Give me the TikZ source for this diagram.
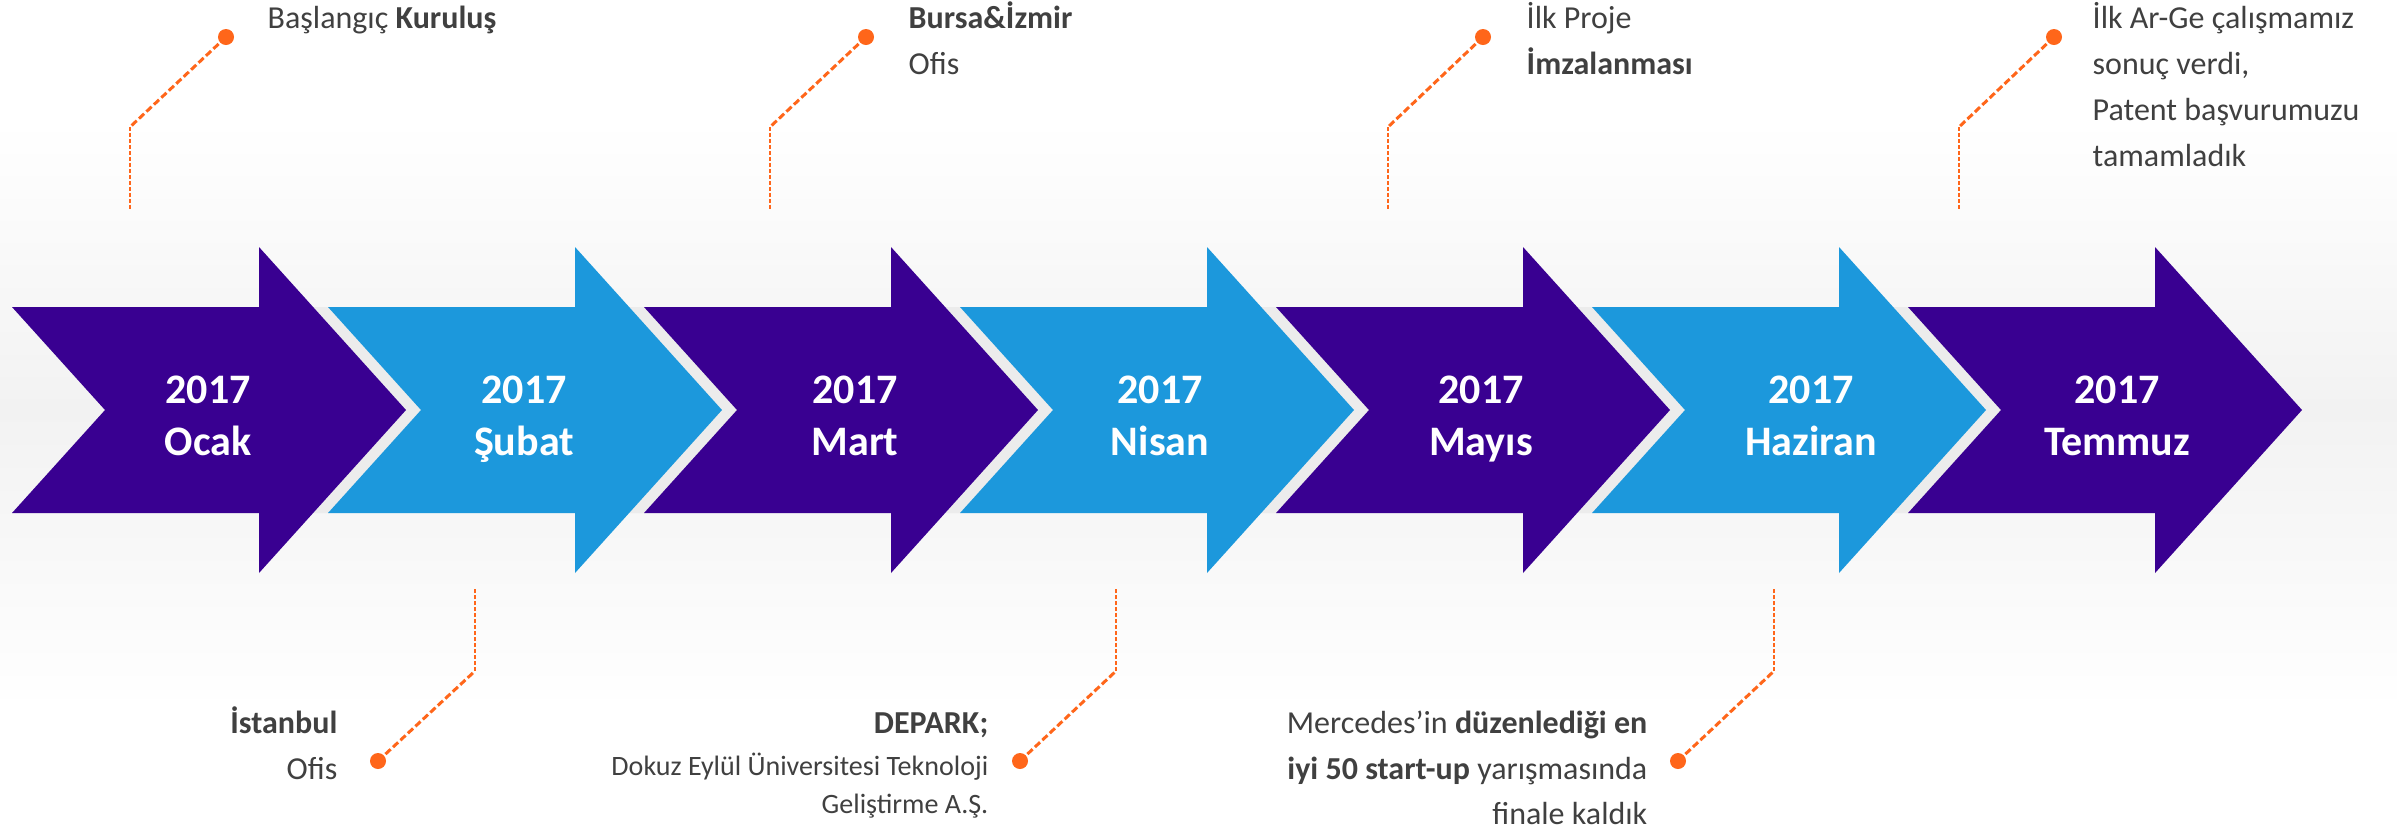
\documentclass[tikz,border=0pt]{standalone}
\usepackage{fontspec}
\setmainfont{Carlito}
\definecolor{purp}{RGB}{57,0,145}
\definecolor{sky}{RGB}{28,152,220}
\definecolor{orng}{RGB}{255,102,26}
\definecolor{txt}{RGB}{64,64,64}
\definecolor{shad}{RGB}{236,236,236}
\definecolor{glow}{RGB}{242,242,242}
\begin{document}
\begin{tikzpicture}[x=0.01cm,y=-0.01cm,
  yr/.style={font=\fontsize{11.95}{14}\selectfont\bfseries, text=white, inner sep=0pt, anchor=base},
  ann/.style={font=\fontsize{9.1}{11}\selectfont, text=txt, inner sep=0pt},
  annsmall/.style={font=\fontsize{7.97}{10}\selectfont, text=txt, inner sep=0pt},
  dot/.style={circle, fill=orng, inner sep=0pt, minimum size=0.16cm},
  dashthick/.style={draw=orng, line width=0.85pt, dash pattern=on 2pt off 0.9pt},
  dashthin/.style={draw=orng, line width=0.45pt, dash pattern=on 1.1pt off 0.6pt}]
\useasboundingbox (0,0) rectangle (2397,829);
\fill[white] (0,0) rectangle (2397,829);
% soft glow behind the arrows
\shade[top color=white, bottom color=glow] (0,120) rectangle (2397,410);
\shade[top color=glow, bottom color=white] (0,410) rectangle (2397,710);
% grey gaps between the arrows
\foreach \x in {12,328,644,960,1276,1592}{
  \fill[shad] (\x+300,307) -- (\x+316,307) -- (\x+409,410) -- (\x+316,513) -- (\x+300,513) -- (\x+394,410) -- cycle;
}
% arrows
\foreach \x/\c/\lx/\m/\i in {12/purp/208/Ocak/1, 328/sky/524/Şubat/2, 644/purp/855/Mart/3, 960/sky/1160/Nisan/4, 1276/purp/1481/Mayıs/5, 1592/sky/1811/Haziran/6, 1908/purp/2117/Temmuz/7}{
  \fill[\c] (\x,307) -- (\x+247,307) -- (\x+247,247) -- (\x+394,410) -- (\x+247,573) -- (\x+247,513) -- (\x,513) -- (\x+93,410) -- cycle;
  \node[yr] (y\i) at (\lx,403) {2017};
  \node[yr] (m\i) at (\lx,455) {\m};
}
% top annotations
\node[ann, anchor=base west] (t1a) at (267,28) {Başlangıç \textbf{Kuruluş}};
\node[ann, anchor=base west] (t2a) at (908,28) {\textbf{Bursa\&İzmir}};
\node[ann, anchor=base west] (t2b) at (908,74) {Ofis};
\node[ann, anchor=base west] (t3a) at (1526,28) {İlk Proje};
\node[ann, anchor=base west] (t3b) at (1526,74) {\textbf{İmzalanması}};
\node[ann, anchor=base west] (t4a) at (2092,28) {İlk Ar-Ge çalışmamız};
\node[ann, anchor=base west] (t4b) at (2092,74) {sonuç verdi,};
\node[ann, anchor=base west] (t4c) at (2092,120) {Patent başvurumuzu};
\node[ann, anchor=base west] (t4d) at (2092,166) {tamamladık};
% bottom annotations
\node[ann, anchor=base east] (b1a) at (338,733) {\textbf{İstanbul}};
\node[ann, anchor=base east] (b1b) at (338,779) {Ofis};
\node[ann, anchor=base east] (b2a) at (989,733) {\textbf{DEPARK;}};
\node[annsmall, anchor=base east] (b2b) at (989,775) {Dokuz Eylül Üniversitesi Teknoloji};
\node[annsmall, anchor=base east] (b2c) at (989,813) {Geliştirme A.Ş.};
\node[ann, anchor=base east] (b3a) at (1648,733) {Mercedes’in \textbf{düzenlediği en}};
\node[ann, anchor=base east] (b3b) at (1648,779) {\textbf{iyi 50 start-up} yarışmasında};
\node[ann, anchor=base east] (b3c) at (1648,824) {finale kaldık};
% connectors: top
\node[dot] (d1) at (226,37) {};
\node[dot] (d2) at (866,37) {};
\node[dot] (d3) at (1483,37) {};
\node[dot] (d4) at (2054,37) {};
\coordinate (k1) at (130,127); \coordinate (e1) at (130,210);
\coordinate (k2) at (770,127); \coordinate (e2) at (770,210);
\coordinate (k3) at (1388,127); \coordinate (e3) at (1388,210);
\coordinate (k4) at (1959,127); \coordinate (e4) at (1959,210);
\foreach \j in {1,2,3,4}{
  \draw[dashthick] (d\j.center) -- (k\j);
  \draw[dashthin] (k\j) -- (e\j);
}
% connectors: bottom
\node[dot] (d5) at (378,761) {};
\node[dot] (d6) at (1020,761) {};
\node[dot] (d7) at (1678,761) {};
\coordinate (k5) at (475,671); \coordinate (e5) at (475,589);
\coordinate (k6) at (1116,671); \coordinate (e6) at (1116,589);
\coordinate (k7) at (1774,671); \coordinate (e7) at (1774,589);
\foreach \j in {5,6,7}{
  \draw[dashthick] (d\j.center) -- (k\j);
  \draw[dashthin] (k\j) -- (e\j);
}
\end{tikzpicture}
\end{document}
